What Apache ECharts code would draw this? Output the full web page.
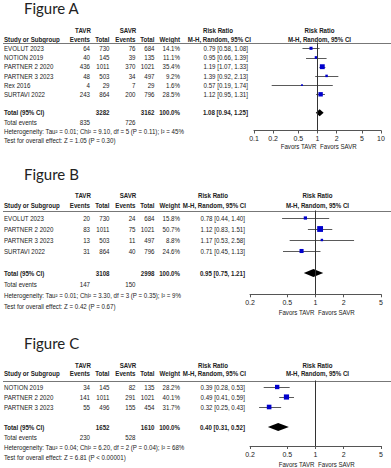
<!DOCTYPE html>
<html><head><meta charset="utf-8">
<script src="https://cdn.jsdelivr.net/npm/echarts@6/dist/echarts.min.js"></script>
<style>html,body{margin:0;padding:0;background:#fff}#c{width:391px;height:468px}</style>
</head><body><div id="c"></div>
<script>
// ---------- Figure A data ----------
const studiesA = ['EVOLUT 2023','NOTION 2019','PARTNER 2 2020','PARTNER 3 2023','Rex 2016','SURTAVI 2022'];
const tavrEventsA = [64,40,436,48,4,243];
const tavrTotalA = [730,145,1011,503,29,864];
const savrEventsA = [76,39,370,34,7,200];
const savrTotalA = [684,135,1021,497,29,796];
const weightA = [14.1,11.1,35.4,9.2,1.6,28.5];
const rrA = [0.79,0.95,1.19,1.39,0.57,1.12];
const loA = [0.58,0.66,1.07,0.92,0.19,0.95];
const hiA = [1.08,1.39,1.33,2.13,1.74,1.31];
const pooledA = [1.08,0.94,1.25];          // RR, lower, upper
const totalsA = [3282,3162,835,726];       // TAVR total, SAVR total, TAVR events, SAVR events
const heteroA = 'Heterogeneity: Tau\u00B2 = 0.01; Chi\u00B2 = 9.10, df = 5 (P = 0.11); I\u00B2 = 45%';
const testA = 'Test for overall effect: Z = 1.05 (P = 0.30)';
const ticksA = [0.1,0.2,0.5,1,2,5,10];
const tickLabelsA = ['0.1','0.2','0.5','1','2','5','10'];

// ---------- Figure B data ----------
const studiesB = ['EVOLUT 2023','PARTNER 2 2020','PARTNER 3 2023','SURTAVI 2022'];
const tavrEventsB = [20,83,13,31];
const tavrTotalB = [730,1011,503,864];
const savrEventsB = [24,75,11,40];
const savrTotalB = [684,1021,497,796];
const weightB = [15.8,50.7,8.8,24.6];
const rrB = [0.78,1.12,1.17,0.71];
const loB = [0.44,0.83,0.53,0.45];
const hiB = [1.40,1.51,2.58,1.13];
const pooledB = [0.95,0.75,1.21];
const totalsB = [3108,2998,147,150];
const heteroB = 'Heterogeneity: Tau\u00B2 = 0.01; Chi\u00B2 = 3.30, df = 3 (P = 0.35); I\u00B2 = 9%';
const testB = 'Test for overall effect: Z = 0.42 (P = 0.67)';
const ticksB = [0.2,0.5,1,2,5];
const tickLabelsB = ['0.2','0.5','1','2','5'];

// ---------- Figure C data ----------
const studiesC = ['NOTION 2019','PARTNER 2 2020','PARTNER 3 2023'];
const tavrEventsC = [34,141,55];
const tavrTotalC = [145,1011,496];
const savrEventsC = [82,291,155];
const savrTotalC = [135,1021,454];
const weightC = [28.2,40.1,31.7];
const rrC = [0.39,0.49,0.32];
const loC = [0.28,0.41,0.25];
const hiC = [0.53,0.59,0.43];
const pooledC = [0.40,0.31,0.52];
const totalsC = [1652,1610,230,528];
const heteroC = 'Heterogeneity: Tau\u00B2 = 0.04; Chi\u00B2 = 6.20, df = 2 (P = 0.04); I\u00B2 = 68%';
const testC = 'Test for overall effect: Z = 6.81 (P < 0.00001)';
const ticksC = [0.2,0.5,1,2,5];
const tickLabelsC = ['0.2','0.5','1','2','5'];

const totalWeight = 100.0;

// ---------- layout / style ----------
const FONT = "'Liberation Sans',Arial,sans-serif";
const TFONT = "Lato,'Open Sans',sans-serif";
const TXT = '#222';
const SX = 0.88;   // horizontal condensing of small table text
const W = 391;

const figs = [
  {title:'Figure A', st:studiesA, tE:tavrEventsA, tT:tavrTotalA, sE:savrEventsA, sT:savrTotalA, w:weightA, rr:rrA, lo:loA, hi:hiA, pooled:pooledA, totals:totalsA, het:heteroA, test:testA, ticks:ticksA, tickLabels:tickLabelsA,
   L:{titleY:7.6, groupY:30, colY:39, lineY:42.5, row0:48.3, sp:9.2, axisY:130.5, favDy:16.2, lblMargin:4.3, rrRight:248, hdrRight:251, fx0:254, fx1:381, dh:3.5}},
  {title:'Figure B', st:studiesB, tE:tavrEventsB, tT:tavrTotalB, sE:savrEventsB, sT:savrTotalB, w:weightB, rr:rrB, lo:loB, hi:hiB, pooled:pooledB, totals:totalsB, het:heteroB, test:testB, ticks:ticksB, tickLabels:tickLabelsB,
   L:{titleY:174, groupY:195, colY:205.5, lineY:210.5, row0:218, sp:11, axisY:294.3, favDy:18, lblMargin:5, rrRight:245, hdrRight:246, fx0:250, fx1:381, dh:4}},
  {title:'Figure C', st:studiesC, tE:tavrEventsC, tT:tavrTotalC, sE:savrEventsC, sT:savrTotalC, w:weightC, rr:rrC, lo:loC, hi:hiC, pooled:pooledC, totals:totalsC, het:heteroC, test:testC, ticks:ticksC, tickLabels:tickLabelsC,
   L:{titleY:342.5, groupY:365, colY:373.5, lineY:380.5, row0:387, sp:10, axisY:446, favDy:18, lblMargin:4.5, rrRight:245, hdrRight:246, fx0:250, fx1:381, dh:4}}
];

const COL = {name:4, tE:90, tT:109.5, sE:135.5, sT:154.5, w:180};

const grids = [], xAxes = [], yAxes = [], series = [], graphics = [];
const fmtRR = (r,l,h) => r.toFixed(2) + ' [' + l.toFixed(2) + ', ' + h.toFixed(2) + ']';

function txt(x, y, text, align, bold) {
  return {type:'text', x:x, y:y, scaleX:SX, silent:true,
    style:{x:0, y:0, text:text, align:align||'left', verticalAlign:'middle',
      fontSize:7, fontFamily:FONT, fontWeight:bold?'bold':'normal', fill:TXT}};
}

figs.forEach((f, i) => {
  const L = f.L, n = f.st.length;
  const xmin = f.ticks[0], xmax = f.ticks[f.ticks.length-1];
  const gT = grids.length;
  // table grid: x in pixels 0..W, y in row index
  grids.push({left:0, width:W, top:L.row0 - L.sp, height:(n+5)*L.sp, outerBoundsMode:'none', containLabel:false});
  xAxes.push({gridIndex:gT, type:'value', min:0, max:W, show:false});
  yAxes.push({gridIndex:gT, type:'value', inverse:true, min:-1, max:n+4, show:false});
  // forest grid
  const gF = grids.length;
  grids.push({left:L.fx0, width:L.fx1-L.fx0, top:L.lineY, height:L.axisY-L.lineY, outerBoundsMode:'none', containLabel:false});
  const tickVals = f.ticks.map(Math.log10);
  xAxes.push({gridIndex:gF, type:'value', min:Math.log10(xmin), max:Math.log10(xmax), position:'bottom',
    axisLine:{show:true, onZero:false, lineStyle:{color:'#555', width:1}},
    axisTick:{show:true, customValues:tickVals, length:3, lineStyle:{color:'#555', width:1}},
    axisLabel:{show:true, customValues:tickVals, margin:L.lblMargin, fontSize:7, fontFamily:FONT, color:TXT,
      formatter:(v) => { const k = tickVals.findIndex(t => Math.abs(t - v) < 1e-6); return k >= 0 ? f.tickLabels[k] : ''; }},
    splitLine:{show:false}});
  yAxes.push({gridIndex:gF, type:'value', inverse:true, min:(L.lineY-L.row0)/L.sp, max:(L.axisY-L.row0)/L.sp, show:false});

  // ----- table text items -----
  const items = [];
  for (let k = 0; k < n; k++) {
    items.push({x:COL.name, row:k, text:f.st[k], align:'left'});
    items.push({x:COL.tE, row:k, text:String(f.tE[k]), align:'right'});
    items.push({x:COL.tT, row:k, text:String(f.tT[k]), align:'right'});
    items.push({x:COL.sE, row:k, text:String(f.sE[k]), align:'right'});
    items.push({x:COL.sT, row:k, text:String(f.sT[k]), align:'right'});
    items.push({x:COL.w, row:k, text:f.w[k].toFixed(1) + '%', align:'right'});
    items.push({x:L.rrRight, row:k, text:fmtRR(f.rr[k], f.lo[k], f.hi[k]), align:'right'});
  }
  const tr = n + 1;
  items.push({x:COL.name, row:tr, text:'Total (95% CI)', align:'left', bold:true});
  items.push({x:COL.tT, row:tr, text:String(f.totals[0]), align:'right', bold:true});
  items.push({x:COL.sT, row:tr, text:String(f.totals[1]), align:'right', bold:true});
  items.push({x:COL.w, row:tr, text:totalWeight.toFixed(1) + '%', align:'right', bold:true});
  items.push({x:L.rrRight, row:tr, text:fmtRR(f.pooled[0], f.pooled[1], f.pooled[2]), align:'right', bold:true});
  items.push({x:COL.name, row:tr+1, text:'Total events', align:'left'});
  items.push({x:COL.tE, row:tr+1, text:String(f.totals[2]), align:'right'});
  items.push({x:COL.sE, row:tr+1, text:String(f.totals[3]), align:'right'});
  items.push({x:COL.name, row:tr+2, text:f.het, align:'left'});
  items.push({x:COL.name, row:tr+3, text:f.test, align:'left'});

  series.push({type:'custom', xAxisIndex:gT, yAxisIndex:gT, silent:true, clip:false,
    data:items.map(it => [it.x, it.row]), encode:{x:0, y:1},
    renderItem:(params, api) => {
      const it = items[params.dataIndex];
      const p = api.coord([api.value(0), api.value(1)]);
      return {type:'text', x:p[0], y:p[1], scaleX:SX,
        style:{x:0, y:0, text:it.text, align:it.align, verticalAlign:'middle',
        fontSize:7, fontFamily:FONT, fontWeight:it.bold?'bold':'normal', fill:TXT}};
    }});

  // ----- study CIs and squares -----
  const studyData = f.rr.map((r,k) => [Math.log10(r), k, Math.log10(f.lo[k]), Math.log10(f.hi[k]), f.w[k]]);
  series.push({type:'custom', xAxisIndex:gF, yAxisIndex:gF, silent:true, clip:false,
    data:studyData, encode:{x:0, y:1},
    renderItem:(params, api) => {
      const c = api.coord([api.value(0), api.value(1)]);
      const a = api.coord([api.value(2), api.value(1)]);
      const b = api.coord([api.value(3), api.value(1)]);
      const s = Math.max(1.8, 0.82 * Math.sqrt(api.value(4)));
      const y = Math.round(c[1]) + 0.5;
      return {type:'group', children:[
        {type:'line', shape:{x1:a[0], y1:y, x2:b[0], y2:y}, style:{stroke:'#5a5a5a', lineWidth:1}},
        {type:'rect', shape:{x:c[0]-s/2, y:c[1]-s/2, width:s, height:s}, style:{fill:'#0000cc'}}
      ]};
    },
    markLine:{silent:true, symbol:['none','none'], animation:false, label:{show:false},
      lineStyle:{color:'#333', width:1, type:'solid'}, data:[{xAxis:0}]}
  });
  // ----- pooled diamond -----
  series.push({type:'custom', xAxisIndex:gF, yAxisIndex:gF, silent:true, clip:false,
    data:[[Math.log10(f.pooled[0]), tr, Math.log10(f.pooled[1]), Math.log10(f.pooled[2])]], encode:{x:0, y:1},
    renderItem:(params, api) => {
      const c = api.coord([api.value(0), api.value(1)]);
      const a = api.coord([api.value(2), api.value(1)]);
      const b = api.coord([api.value(3), api.value(1)]);
      return {type:'polygon', shape:{points:[[a[0],c[1]],[c[0],c[1]-L.dh],[b[0],c[1]],[c[0],c[1]+L.dh]]}, style:{fill:'#000'}};
    }});

  // ----- static labels -----
  const nullX = L.fx0 + (0 - Math.log10(xmin)) / (Math.log10(xmax) - Math.log10(xmin)) * (L.fx1 - L.fx0);
  graphics.push({type:'text', x:24, y:L.titleY, silent:true,
    style:{x:0, y:0, text:f.title, align:'left', verticalAlign:'middle', fontSize:15, fontFamily:TFONT, fill:'#222'}});
  graphics.push(txt(83, L.groupY, 'TAVR', 'center', true));
  graphics.push(txt(128, L.groupY, 'SAVR', 'center', true));
  graphics.push(txt(L.hdrRight - 33, L.groupY, 'Risk Ratio', 'center', true));
  graphics.push(txt(nullX + 2, L.groupY, 'Risk Ratio', 'center', true));
  graphics.push(txt(COL.name, L.colY, 'Study or Subgroup', 'left', true));
  graphics.push(txt(COL.tE, L.colY, 'Events', 'right', true));
  graphics.push(txt(COL.tT, L.colY, 'Total', 'right', true));
  graphics.push(txt(COL.sE, L.colY, 'Events', 'right', true));
  graphics.push(txt(COL.sT, L.colY, 'Total', 'right', true));
  graphics.push(txt(COL.w, L.colY, 'Weight', 'right', true));
  graphics.push(txt(L.hdrRight, L.colY, 'M-H, Random, 95% CI', 'right', true));
  graphics.push(txt(nullX + 2, L.colY, 'M-H, Random, 95% CI', 'center', true));
  graphics.push({type:'line', silent:true, shape:{x1:3, y1:Math.round(L.lineY)+0.5, x2:W, y2:Math.round(L.lineY)+0.5}, style:{stroke:'#777', lineWidth:1}});
  graphics.push(txt(nullX - 1, L.axisY + L.favDy, 'Favors TAVR', 'right'));
  graphics.push(txt(nullX + 2.5, L.axisY + L.favDy, 'Favors SAVR', 'left'));
});

const chart = echarts.init(document.getElementById('c'), null, {renderer:'svg', width:391, height:468});
chart.setOption({
  animation:false,
  backgroundColor:'#fff',
  grid:grids, xAxis:xAxes, yAxis:yAxes, series:series, graphic:graphics
});
</script></body></html>
